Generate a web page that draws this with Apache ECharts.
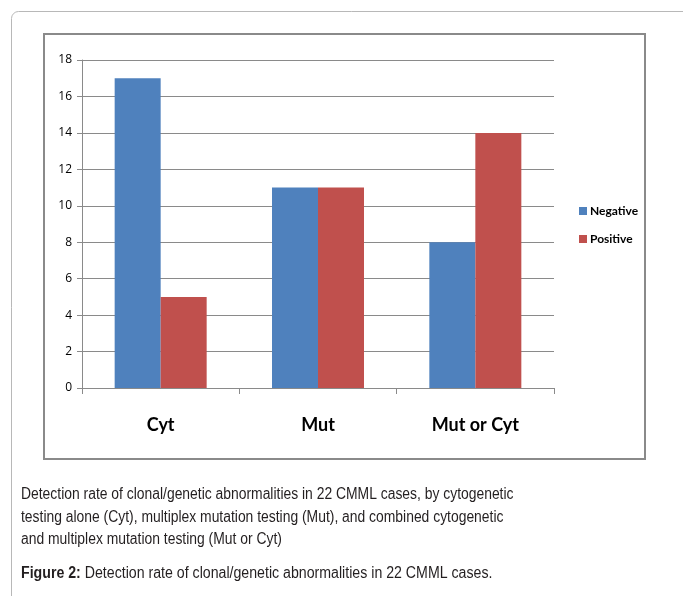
<!DOCTYPE html>
<html><head><meta charset="utf-8">
<script src="https://cdn.jsdelivr.net/npm/echarts@6/dist/echarts.min.js"></script>
<style>html,body{margin:0;padding:0;background:#fff}#c{width:683px;height:596px}</style>
</head><body><div id="c"></div>
<script>
var categories = ['Cyt', 'Mut', 'Mut or Cyt'];
var negative = [17, 11, 8];
var positive = [5, 11, 14];
var yTicks = [0, 2, 4, 6, 8, 10, 12, 14, 16, 18];
var captionLines = [
  'Detection rate of clonal/genetic abnormalities in 22 CMML cases, by cytogenetic',
  'testing alone (Cyt), multiplex mutation testing (Mut), and combined cytogenetic',
  'and multiplex mutation testing (Mut or Cyt)'
];
var figLabel = 'Figure 2:';
var figText = ' Detection rate of clonal/genetic abnormalities in 22 CMML cases.';

var chart = echarts.init(document.getElementById('c'));
var capFont = '"Liberation Sans", Arial, sans-serif';
var graphics = [
  {type:'rect', shape:{x:11.5, y:11.5, width:700, height:620, r:7}, style:{fill:'none', stroke:'#b8b8b8', lineWidth:1}, z:-10},
  {type:'rect', shape:{x:44, y:34, width:601, height:425}, style:{fill:'none', stroke:'#8a8a8a', lineWidth:2}, z:-10}
];
captionLines.forEach(function(t, i){
  graphics.push({type:'text', x:21, y:487 + i*22.5, scaleX:0.868,
    style:{text:t, font:'16px ' + capFont, fill:'#231f20'}});
});
graphics.push({type:'text', x:21, y:566, scaleX:0.885, style:{
  text:'{b|' + figLabel + '}{n|' + figText + '}',
  rich:{b:{font:'bold 16px ' + capFont, fill:'#231f20'}, n:{font:'16px ' + capFont, fill:'#231f20'}}
}});

chart.setOption({
  animation:false,
  grid:{left:82, top:60, right:129, bottom:208, containLabel:false},
  legend:{
    orient:'vertical', left:574, top:200, itemWidth:8, itemHeight:8, itemGap:16,
    icon:'rect',
    textStyle:{fontFamily:'Lato, "Open Sans", sans-serif', fontWeight:'bold', fontSize:12, color:'#000', padding:[0,0,0,-2]},
    data:['Negative','Positive']
  },
  xAxis:{
    type:'category', data:categories,
    axisLine:{lineStyle:{color:'#8a8a8a', width:1}},
    axisTick:{show:true, length:6, lineStyle:{color:'#8a8a8a'}},
    axisLabel:{fontFamily:'Lato, "Open Sans", sans-serif', fontWeight:'bold', fontSize:18, color:'#000', margin:28}
  },
  yAxis:{
    type:'value', min:0, max:18, interval:2,
    axisLine:{show:true, lineStyle:{color:'#8a8a8a'}},
    axisTick:{show:true, length:5, lineStyle:{color:'#8a8a8a'}},
    axisLabel:{fontFamily:'"Open Sans", sans-serif', fontSize:12, color:'#000', margin:10,
      formatter:function(v){ return yTicks.indexOf(v) >= 0 ? String(v) : ''; }},
    splitLine:{lineStyle:{color:'#8a8a8a', width:1}}
  },
  series:[
    {name:'Negative', type:'bar', data:negative, barWidth:46, barGap:'0%', itemStyle:{color:'#4f81bd'}},
    {name:'Positive', type:'bar', data:positive, barWidth:46, barGap:'0%', itemStyle:{color:'#c0504d'}}
  ],
  graphic:graphics
});
</script></body></html>
